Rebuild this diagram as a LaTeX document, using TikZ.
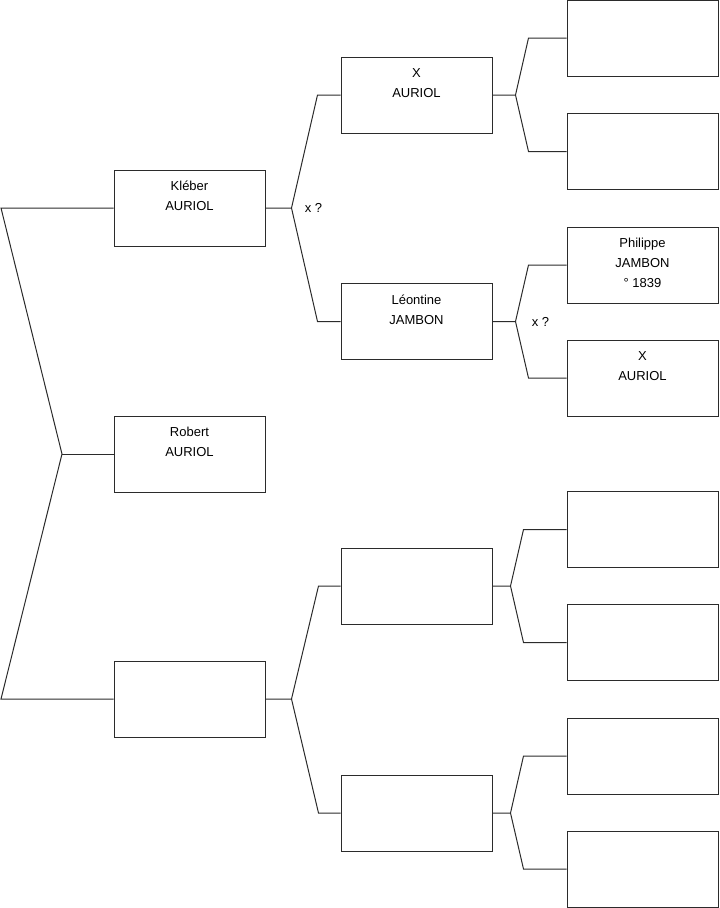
\documentclass[tikz,border=0pt]{standalone}
\usepackage{fontspec}
\setmainfont{Liberation Sans}
\usetikzlibrary{calc}
\definecolor{ink}{HTML}{000000}
\definecolor{frame}{HTML}{2B2B2B}
\tikzset{
  font=\fontsize{9.75}{15}\selectfont,
  %
  person/.style={draw=frame, line width=0.75pt, rectangle, inner sep=0pt,
                 minimum width=113.25pt, minimum height=57pt},
  who/.style={anchor=north, align=center, inner sep=0pt, yshift=-8.5pt, text=ink},
  %
  link/.style={draw=frame, line width=0.75pt, line join=miter},
  lbl/.style={anchor=west, inner sep=0pt, text=ink},
}
% parent, upper, lower, vertex dx, shoulder dx
\newcommand{\fork}[5]{%
  \draw[link] (#1.east) -- ++(#4,0) coordinate (#1-v)
    -- ($(#2.west)+(-#5,0)$) -- (#2.west);
  \draw[link] (#1-v) -- ($(#3.west)+(-#5,0)$) -- (#3.west);
}

\begin{document}
\begin{tikzpicture}[x=0.75pt, y=-0.75pt]
  \useasboundingbox (0,0) rectangle (719,908);

  \def\A{189.5}  % generation 1
  \def\B{416.5}  % generation 2
  \def\C{642.5}  % generation 3

  % --- generation 1 --------------------------------------------------
  \node[person, label={[who]north:{Kléber\\AURIOL}}] (kleber) at (\A,208) {};
  \node[person, label={[who]north:{Robert\\AURIOL}}] (robert) at (\A,454) {};
  \node[person] (mother) at (\A,699) {};

  % --- generation 2 --------------------------------------------------
  \node[person, label={[who]north:{X\\AURIOL}}] (xauriol) at (\B,95) {};
  \node[person, label={[who]north:{Léontine\\JAMBON}}] (leontine) at (\B,321.5) {};
  \node[person] (mfather) at (\B,586) {};
  \node[person] (mmother) at (\B,813) {};

  % --- generation 3 --------------------------------------------------
  \node[person] (xa-f) at (\C,38) {};
  \node[person] (xa-m) at (\C,151.5) {};
  \node[person, label={[who]north:{Philippe\\JAMBON\\° 1839}}] (philippe) at (\C,265) {};
  \node[person, label={[who]north:{X\\AURIOL}}] (xauriol2) at (\C,378) {};
  \node[person] (mf-f) at (\C,529.5) {};
  \node[person] (mf-m) at (\C,642.5) {};
  \node[person] (mm-f) at (\C,756) {};
  \node[person] (mm-m) at (\C,869) {};

  % --- root bracket --------------------------------------------------
  \coordinate (root) at (62,454);
  \draw[link] (kleber.west) -- (kleber.west -| 1,0) -- (root)
    -- (mother.west -| 1,0) -- (mother.west);
  \draw[link] (root) -- (robert.west);

  % --- forks ---------------------------------------------------------
  \fork{kleber}{xauriol}{leontine}{26}{23}
  \fork{mother}{mfather}{mmother}{26}{22}
  \fork{xauriol}{xa-f}{xa-m}{23}{38}
  \fork{leontine}{philippe}{xauriol2}{23}{38}
  \fork{mfather}{mf-f}{mf-m}{18}{43}
  \fork{mmother}{mm-f}{mm-m}{18}{43}

  \node[lbl] (kx) at ($(kleber-v)+(13,0)$) {x ?};
  \node[lbl] (lx) at ($(leontine-v)+(16,0)$) {x ?};

\end{tikzpicture}
\end{document}
